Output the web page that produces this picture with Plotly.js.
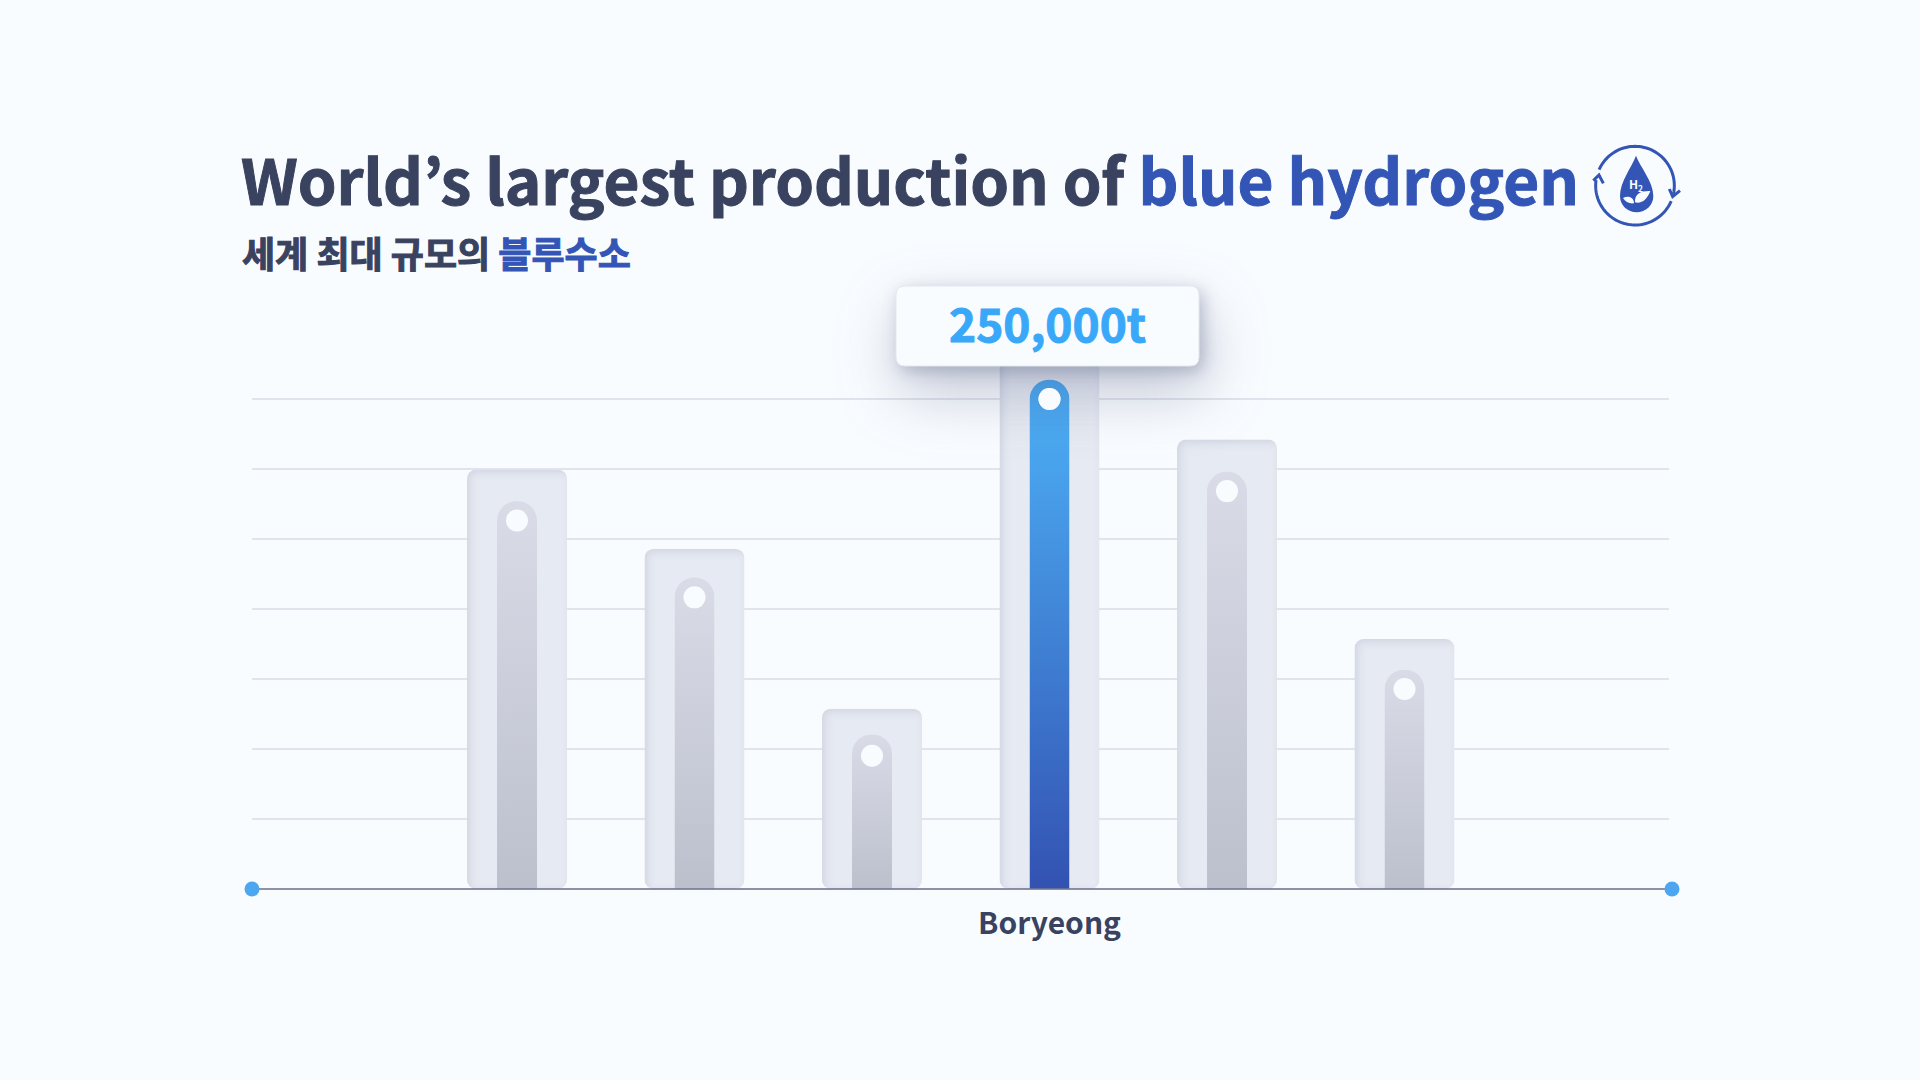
<!DOCTYPE html>
<html>
<head>
<meta charset="utf-8">
<script src="https://cdn.plot.ly/plotly-3.0.1.min.js"></script>
<style>html,body{margin:0;padding:0;background:#f9fcff}#chart{width:1920px;height:1080px}</style>
</head>
<body>
<div id="chart"></div>
<svg width="0" height="0" style="position:absolute">
  <defs>
    <linearGradient id="pillGrey" x1="0" y1="0" x2="0" y2="1">
      <stop offset="0" stop-color="#d9dce7"/><stop offset="1" stop-color="#bcc0cd"/>
    </linearGradient>
    <linearGradient id="pillBlue" x1="0" y1="0" x2="0" y2="1">
      <stop offset="0" stop-color="#4aa9f2"/><stop offset="0.12" stop-color="#4aa7ef"/><stop offset="1" stop-color="#3352b2"/>
    </linearGradient>
    <filter id="inset" x="-5%" y="-5%" width="110%" height="110%" color-interpolation-filters="sRGB">
      <feOffset in="SourceAlpha" dx="3" dy="3" result="o"/>
      <feGaussianBlur in="o" stdDeviation="4" result="b"/>
      <feComposite in="SourceAlpha" in2="b" operator="out" result="edge"/>
      <feFlood flood-color="#b4bace" flood-opacity="0.45"/>
      <feComposite in2="edge" operator="in" result="shade"/>
      <feMerge><feMergeNode in="SourceGraphic"/><feMergeNode in="shade"/></feMerge>
    </filter>
  </defs>
</svg>
<script>
// ---- data ----
const positions   = [1, 2, 3, 4, 5, 6];
const tickLabels  = ["", "", "", "Boryeong", "", ""];
const dotValues   = [188000, 148800, 68000, 250000, 203000, 102000];
const pillValues  = [198000, 159000, 79000, 260000, 213000, 112000];
const plateValues = [214000, 173500, 92000, 275500, 229300, 127500];
const highlightIndex = 3;
const calloutText = "250,000t";
const axisEnds    = [-0.493, 7.507];
const axisBase    = [0, 0];
const gridValues  = [35714, 71429, 107143, 142857, 178571, 214286, 250000];

const INK = "#39425f", BLUE = "#3355b5", SKY = "#3aa8f8", BG = "#f9fcff", KR = '"Noto Sans CJK KR","Noto Sans",sans-serif';
const W = 1920, H = 1080;
const px = (x, y) => (x / W).toFixed(5) + "," + (1 - y / H).toFixed(5);
const zi = (x, y) => px(1500 + x / 3, 120 + y / 3);   // icon drawn in a local grid

function arc(cx, cy, r, a0, a1) {
  const out = [];
  for (let a = a0; a <= a1; a += 3) {
    const t = a * Math.PI / 180;
    out.push((out.length ? "L" : "M") + zi(cx + r * Math.cos(t), cy + r * Math.sin(t)));
  }
  return out.join(" ");
}
function roundRect(x0, y0, x1, y1, r) {
  return `M${px(x0 + r, y0)} L${px(x1 - r, y0)} Q${px(x1, y0)} ${px(x1, y0 + r)} L${px(x1, y1 - r)} Q${px(x1, y1)} ${px(x1 - r, y1)} L${px(x0 + r, y1)} Q${px(x0, y1)} ${px(x0, y1 - r)} L${px(x0, y0 + r)} Q${px(x0, y0)} ${px(x0 + r, y0)} Z`;
}
const base = {type: "path", xref: "paper", yref: "paper", layer: "above"};
const stroke = d => Object.assign({}, base, {path: d, line: {color: BLUE, width: 3}, fillcolor: "rgba(0,0,0,0)"});
const fill = (d, c) => Object.assign({}, base, {path: d, line: {width: 0}, fillcolor: c});

const shapes = [
  Object.assign({}, base, {path: roundRect(896, 286, 1199, 366, 9), fillcolor: BG, line: {color: "#e4e7ee", width: 1}}),
  // the highlighted dot stays clear of the callout's shadow
  {type: "circle", layer: "above", xref: "x", yref: "y", xsizemode: "pixel", ysizemode: "pixel",
   xanchor: positions[highlightIndex], yanchor: dotValues[highlightIndex], x0: -11, x1: 11, y0: -11, y1: 11,
   fillcolor: BG, line: {width: 0}},
  stroke(arc(405, 197, 118, 204, 372)),
  stroke(arc(405, 197, 118, 23, 188)),
  stroke(`M${zi(508, 207)} L${zi(518, 230)} L${zi(540, 212)}`),
  stroke(`M${zi(280, 182)} L${zi(297, 165)} L${zi(310, 190)}`),
  fill(`M${zi(408, 107)} C${zi(395, 142)} ${zi(360, 185)} ${zi(360, 228)} C${zi(360, 256)} ${zi(383, 277)} ${zi(410, 277)} C${zi(437, 277)} ${zi(460, 256)} ${zi(460, 228)} C${zi(460, 185)} ${zi(421, 142)} ${zi(408, 107)} Z`, BLUE),
  fill(`M${zi(369, 234)} C${zi(385, 226)} ${zi(402, 232)} ${zi(402, 250)} C${zi(388, 252)} ${zi(376, 246)} ${zi(369, 234)} Z`, BG),
  fill(`M${zi(451, 213)} C${zi(425, 212)} ${zi(403, 220)} ${zi(405, 247)} C${zi(425, 252)} ${zi(442, 238)} ${zi(451, 213)} Z`, BG),
  // trims the gridlines a little short of the axis line on the right
  {type: "rect", xref: "x", yref: "y", layer: "between", x0: 7.49, x1: 7.6, y0: 20000, y1: 260000, fillcolor: BG, line: {width: 0}},
];

const plateTrace = {type: "bar", x: positions, y: plateValues, width: 100 / 177.5,
  marker: {color: "#e6eaf2", line: {width: 0}}, hoverinfo: "skip", showlegend: false};
const pillTrace = {type: "bar", x: positions, y: pillValues, width: 40 / 177.5,
  marker: {color: positions.map((_, i) => i === highlightIndex ? "#4aa9f2" : "#cdd0dc"), line: {width: 0}},
  hoverinfo: "skip", showlegend: false};
const dotTrace = {type: "scatter", mode: "markers", x: positions, y: dotValues, cliponaxis: false,
  marker: {color: BG, size: 22, line: {width: 0}}, hoverinfo: "skip", showlegend: false};
const axisTrace = {type: "scatter", mode: "lines+markers", x: axisEnds, y: axisBase, cliponaxis: false,
  line: {color: "rgba(112,118,146,0.8)", width: 2},
  marker: {color: "#4ca7f0", size: 15, line: {width: 0}}, hoverinfo: "skip", showlegend: false};

const labelled = positions.map((p, i) => [p, tickLabels[i]]).filter(d => d[1]);

const layout = {
  width: W, height: H, autosize: false,
  margin: {l: 0, r: 0, t: 0, b: 0, pad: 0},
  paper_bgcolor: BG, plot_bgcolor: "rgba(0,0,0,0)",
  barmode: "overlay", showlegend: false,
  font: {family: KR, color: INK},
  title: {
    text: `World’s largest production of <span style="color:${BLUE}">blue hydrogen</span>`,
    font: {family: KR, size: 62, color: INK, weight: 700},
    x: 241 / W, xanchor: "left", xref: "paper",
    y: 1 - 183 / H, yanchor: "middle", yref: "paper", automargin: false
  },
  xaxis: {
    domain: [252 / W, 1672 / W], range: axisEnds, type: "linear",
    tickmode: "array", tickvals: labelled.map(d => d[0]), ticktext: labelled.map(d => d[1]),
    ticks: "", showgrid: false, zeroline: false, showline: false,
    tickfont: {family: KR, size: 30, color: INK, weight: 700},
    ticklabelstandoff: 4, automargin: false, fixedrange: true
  },
  yaxis: {
    domain: [1 - 899 / H, 1 - 301 / H], range: [-5102, 300000], type: "linear",
    tickmode: "array", tickvals: gridValues, ticktext: gridValues.map(() => ""),
    showticklabels: false, ticks: "", showline: false, zeroline: false,
    showgrid: true, gridcolor: "#e1e4ed", gridwidth: 2, automargin: false, fixedrange: true
  },
  shapes,
  annotations: [
    {xref: "paper", yref: "paper", x: 240 / W, y: 1 - 252 / H, xanchor: "left", yanchor: "middle", showarrow: false,
     text: `세계 최대 규모의 <span style="color:${BLUE}">블루수소</span>`, font: {family: KR, size: 36, color: INK, weight: 700}},
    {xref: "paper", yref: "paper", x: 1047.5 / W, y: 1 - 321.5 / H, xanchor: "center", yanchor: "middle", showarrow: false,
     text: calloutText, font: {family: KR, size: 46, color: SKY, weight: 700}},
    {xref: "paper", yref: "paper", x: 1636 / W, y: 1 - 184.5 / H, xanchor: "center", yanchor: "middle", showarrow: false,
     text: "<b>H<sub>2</sub></b>", font: {family: KR, size: 12, color: BG}}
  ]
};

Plotly.newPlot("chart", [plateTrace, pillTrace, axisTrace, dotTrace], layout, {staticPlot: true, displayModeBar: false}).then(() => {
  const groups = document.querySelectorAll("#chart .barlayer .trace");
  groups[0].querySelectorAll(".point path").forEach(p => {
    p.style.filter = "url(#inset)";
    p.style.clipPath = "inset(0 round 9px) fill-box";
  });
  groups[1].querySelectorAll(".point path").forEach((p, i) => {
    p.style.fill = i === highlightIndex ? "url(#pillBlue)" : "url(#pillGrey)";
    p.style.clipPath = "inset(0 round 20px 20px 0 0) fill-box";
  });
  const card = document.querySelector('#chart .layer-above .shapelayer path[data-index="0"]');
  if (card) card.style.filter = "drop-shadow(4px 5px 8px rgba(70,80,120,0.30)) drop-shadow(4px 24px 30px rgba(70,80,120,0.30))";
  // a hair of extra weight on the large text
  document.querySelectorAll("#chart .gtitle, #chart .gtitle tspan, #chart .annotation-text, #chart .annotation-text tspan").forEach(el => {
    if (parseFloat(getComputedStyle(el).fontSize) < 20) return;
    el.style.stroke = getComputedStyle(el).fill;
    el.style.strokeWidth = "1px";
  });
});
</script>
</body>
</html>
